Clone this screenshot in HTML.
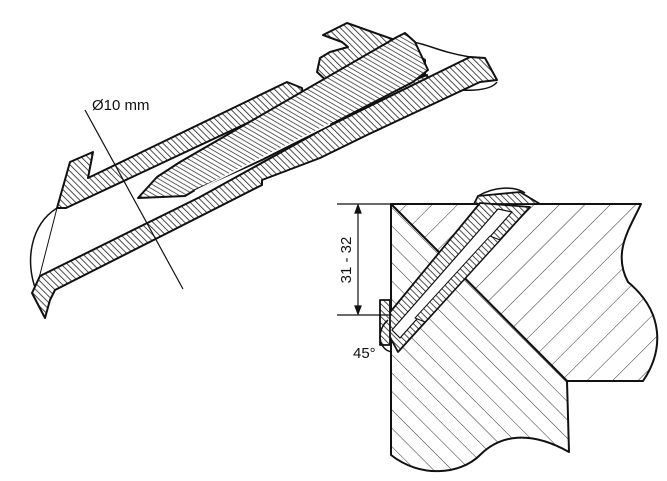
<!DOCTYPE html>
<html><head><meta charset="utf-8"><style>html,body{margin:0;padding:0;background:#fff}svg{display:block}</style></head>
<body>
<svg width="667" height="481" viewBox="0 0 667 481" xmlns="http://www.w3.org/2000/svg">
<defs>
<pattern id="hf" width="4.5" height="4.5" patternUnits="userSpaceOnUse" patternTransform="rotate(-45)"><rect width="4.5" height="4.5" fill="#fff"/><line x1="0" y1="0" x2="0" y2="4.5" stroke="#222" stroke-width="1.6"/></pattern>
<pattern id="hs" width="4" height="4" patternUnits="userSpaceOnUse" patternTransform="rotate(-60)"><rect width="4" height="4" fill="#fff"/><line x1="0" y1="0" x2="0" y2="4" stroke="#222" stroke-width="1.4"/></pattern>
<pattern id="hb1" width="18" height="18" patternUnits="userSpaceOnUse" patternTransform="rotate(45)"><rect width="18" height="18" fill="#fff"/><line x1="0" y1="0" x2="0" y2="18" stroke="#333" stroke-width="1"/></pattern>
<pattern id="hb2" width="13" height="13" patternUnits="userSpaceOnUse" patternTransform="rotate(-45)"><rect width="13" height="13" fill="#fff"/><line x1="0" y1="0" x2="0" y2="13" stroke="#333" stroke-width="1"/></pattern>
</defs>
<g stroke="#111" stroke-width="2" stroke-linejoin="round" fill="url(#hf)">
<path d="M57,208 C30,225 25,262 36,290" fill="none" stroke-width="1.5"/>
<path d="M57,208 L36,290" fill="none" stroke-width="1"/>
<path d="M413,42 C430,45 440,52 470,57" fill="none" stroke-width="1.5"/>
<path d="M440,87 C460,92 490,92 497,82" fill="none" stroke-width="1.5"/>
<!-- lower nut -->
<path d="M337,117 L353,128 L367,130 L430,92 L427,75 L345,108 Z"/>
<!-- upper nut -->
<path d="M323,35 L347,23 L395,40 L425,60 L425,75 L330,84 L317,72 L320,58 L330,52 L348,47 L342,42 Z"/>
<!-- lower strip -->
<path d="M40,276 L200,197 L325,128 L470,57 L485,58 L497,80 L480,82 L367,135 L320,158 L262,180 L262,185 L55,290 L50,300 L45,318 L32,293 Z"/>
<!-- upper strip -->
<path d="M57,208 L70,162 L93,152 L88,178 L287,82 L302,88 L303,97 L66,208 Z"/>
<!-- screw -->
<path d="M138,198 L157,177 L180,162 L397,37 L405,33 L415,42 L428,70 L413,82 L262,160 L195,190 L185,196 Z" fill="url(#hs)"/>
<path d="M195,191 L330,124" stroke="#fff" stroke-width="1.5"/>
</g>
<line x1="85" y1="110" x2="183" y2="289" stroke="#111" stroke-width="1.2"/>
<text x="92" y="110" font-family="Liberation Sans, sans-serif" font-size="15" fill="#111">Ø10 mm</text>

<g stroke="#111" stroke-width="2" stroke-linejoin="round">
<path d="M391,204 L641,204 C630,228 612,252 628,282 C664,312 664,350 643,381 L567,381 Z" fill="url(#hb1)"/>
<path d="M391,204 L567,381 L569,452 C530,430 500,435 480,455 C460,475 420,478 391,455 Z" fill="url(#hb2)"/>
</g>
<g stroke="#111" stroke-width="1.8" stroke-linejoin="round">
<path d="M474,204 L478,196 L520,192 L540,204 Z" fill="url(#hf)"/>
<path d="M382,322 L480,203 L530,207 L398,352 Z" fill="url(#hf)"/>
<path d="M392,330 L498,209 L512,212 L400,338 Z" fill="#fff" stroke-width="1.2"/>
<path d="M415,318 L490,236 L500,240 L425,322 Z" fill="url(#hf)" stroke-width="1"/>
<path d="M380,300 L390,300 L390,345 L380,345 Z" fill="url(#hf)"/>
<path d="M388,320 C376,330 378,350 392,352" fill="none" stroke-width="1.5"/>
<path d="M478,196 C495,186 515,186 525,193" fill="none" stroke-width="1.5"/>
</g>
<g stroke="#111" stroke-width="1.2">
<line x1="337" y1="204" x2="391" y2="204"/>
<line x1="337" y1="315" x2="392" y2="315"/>
<line x1="358" y1="206" x2="358" y2="313"/>
<path d="M358,205 l-3,8 h6 z M358,314 l-3,-8 h6 z" fill="#111"/>
</g>
<text transform="translate(351,260) rotate(-90)" text-anchor="middle" font-family="Liberation Sans, sans-serif" font-size="15" fill="#111">31 - 32</text>
<text x="353" y="358" font-family="Liberation Sans, sans-serif" font-size="15" fill="#111">45°</text>
</svg>
</body></html>
